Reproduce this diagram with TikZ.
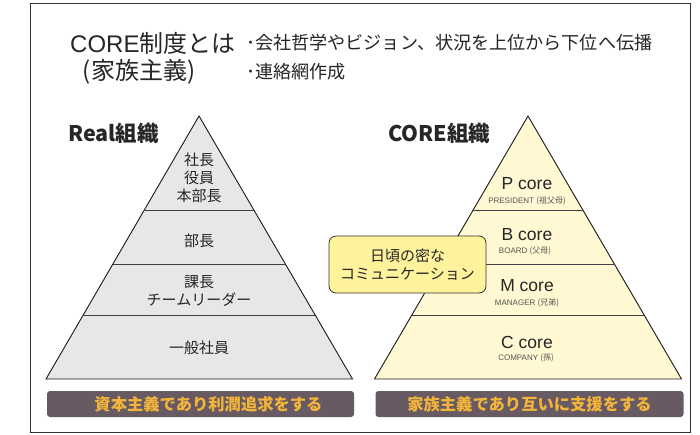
\documentclass[tikz,border=0pt]{standalone}
\usepackage{fontspec}
\setmainfont{Noto Sans CJK JP}
\newfontfamily\latinsans{Liberation Sans}
\newfontfamily\cjkmain{Noto Sans CJK JP}
\definecolor{framegray}{HTML}{333333}
\definecolor{leftfill}{HTML}{E6E7E9}
\definecolor{rightfill}{HTML}{FFF8D2}
\definecolor{calloutfill}{HTML}{FFF29C}
\definecolor{btnfill}{HTML}{675A62}
\definecolor{btntext}{HTML}{F2B43A}
\definecolor{subgray}{HTML}{555555}
\tikzset{
  txt/.style={inner sep=0pt, text=black!85},
  layertxt/.style={txt, font=\fontsize{15}{18}\selectfont, align=center},
  corebig/.style={txt, font=\latinsans\fontsize{17.5}{20}\selectfont},
  coresmall/.style={inner sep=0pt, text=subgray, font=\latinsans\fontsize{8}{9}\selectfont},
  pyr/.style={draw=black!90, line width=0.9pt, line join=miter},
  divider/.style={draw=black!75, line width=0.8pt},
  btn/.style={fill=btnfill, rounded corners=3pt, minimum width=#1, minimum height=26pt, inner sep=0pt},
  btntxt/.style={inner sep=0pt, text=btntext, font=\bfseries\fontsize{16.3}{18}\selectfont},
  heading/.style={inner sep=0pt, text=black!85, font=\bfseries\fontsize{21.5}{24}\selectfont}
}
\begin{document}
\begin{tikzpicture}[x=1pt,y=-1pt]
\useasboundingbox (0,0) rectangle (700,434);
\fill[white] (0,0) rectangle (700,434);
% frame
\draw[framegray, line width=0.8pt] (30,3) rectangle (690,432);

% title
\node[txt, anchor=west, font=\fontsize{24}{26}\selectfont] (title1) at (70,43) {{\latinsans CORE}制度とは};
\node[txt, font=\fontsize{24}{26}\selectfont] (title2) at (139,72) {(家族主義)};
\node[txt, anchor=west, font=\fontsize{18.1}{20}\selectfont] (bul1) at (246,43) {･会社哲学やビジョン、状況を上位から下位へ伝播};
\node[txt, anchor=west, font=\fontsize{18.1}{20}\selectfont] (bul2) at (246,72) {･連絡網作成};

% headings
\node[heading, anchor=west] (realh) at (68,133) {Real組織};
\node[heading, anchor=west] (coreh) at (388,133) {CORE組織};

% left pyramid
\coordinate (LA) at (199,116);
\coordinate (LL) at (46,379);
\coordinate (LR) at (352.5,379);
\filldraw[pyr, fill=leftfill] (LA) -- (LR) -- (LL) -- cycle;
\foreach \yy in {210,264.5,315.5}{
  \pgfmathsetmacro{\dx}{(\yy-116)/263*153}
  \draw[divider] ({199-\dx},\yy) -- ({199+\dx},\yy);
}
\node[layertxt] (shacho) at (199,177.5) {社長\\役員\\本部長};
\node[layertxt] (bucho) at (199,241) {部長};
\node[layertxt] (kacho) at (199,291) {課長\\チームリーダー};
\node[layertxt] (ippan) at (199,348) {一般社員};

% right pyramid
\coordinate (RA) at (528,116);
\coordinate (RL) at (374.5,379);
\coordinate (RR) at (681.5,379);
\filldraw[pyr, fill=rightfill] (RA) -- (RR) -- (RL) -- cycle;
\foreach \yy in {210,264.5,315.5}{
  \pgfmathsetmacro{\dx}{(\yy-116)/263*153.5}
  \draw[divider] ({528-\dx},\yy) -- ({528+\dx},\yy);
}
\node[corebig] (pcore) at (527,184) {P core};
\node[coresmall] (pres) at (527,200.5) {PRESIDENT {\cjkmain (祖父母)}};
\node[corebig] (bcore) at (527,235) {B core};
\node[coresmall] (board) at (525,251) {BOARD {\cjkmain (父母)}};
\node[corebig] (mcore) at (527,286) {M core};
\node[coresmall] (mgr) at (527,303) {MANAGER {\cjkmain (兄弟)}};
\node[corebig] (ccore) at (527,342) {C core};
\node[coresmall] (comp) at (526,358) {COMPANY {\cjkmain (孫)}};

% callout
\node[draw=black!80, line width=0.8pt, fill=calloutfill, rounded corners=7pt,
      minimum width=157pt, minimum height=57pt, inner sep=0pt, align=center,
      text=black!85, font=\fontsize{15}{18}\selectfont] (callout) at (407.5,264.5)
      {日頃の密な\\コミュニケーション};

% buttons
\node[btn=307pt] (btnL) at (200.5,404) {};
\node[btntxt] (btnLt) at (208.5,404) {資本主義であり利潤追求をする};
\node[btn=308pt] (btnR) at (529.5,404) {};
\node[btntxt] (btnRt) at (529.5,404) {家族主義であり互いに支援をする};
\end{tikzpicture}
\end{document}
